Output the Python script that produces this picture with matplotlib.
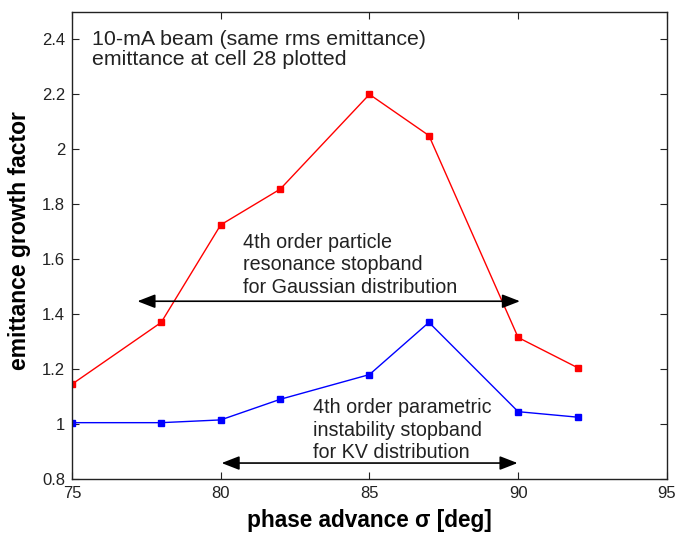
import matplotlib
matplotlib.use("Agg")
import matplotlib.pyplot as plt

plt.rcParams['font.family'] = ['Liberation Sans', 'DejaVu Sans']

phase = [75, 78, 80, 82, 85, 87, 90, 92]
gaussian = [1.145, 1.37, 1.725, 1.855, 2.20, 2.05, 1.315, 1.205]
kv = [1.005, 1.005, 1.015, 1.09, 1.18, 1.37, 1.045, 1.025]

xticks = [75, 80, 85, 90, 95]
yticks = [0.8, 1.0, 1.2, 1.4, 1.6, 1.8, 2.0, 2.2, 2.4]
ytick_labels = ['0.8', '1', '1.2', '1.4', '1.6', '1.8', '2', '2.2', '2.4']

fig = plt.figure(figsize=(6.76, 5.35), dpi=100)
ax = fig.add_axes([0.1065, 0.1047, 0.880, 0.873])

ax.plot(phase, gaussian, '-s', color='#ff0000', lw=1.0, ms=5, mec='#ff0000', mfc='#ff0000')
ax.plot(phase, kv, '-s', color='#0000ff', lw=1.0, ms=5, mec='#0000ff', mfc='#0000ff')

ax.set_xlim(75, 95)
ax.set_ylim(0.8, 2.5)
ax.set_xticks(xticks)
ax.set_yticks(yticks)
ax.set_yticklabels(ytick_labels)
ax.tick_params(direction='in', top=True, right=True, length=5, labelsize=12, pad=5,
               color='#222222', labelcolor='#222222')
for s in ax.spines.values():
    s.set_linewidth(1.0)
    s.set_color('#222222')

ax.set_xlabel('phase advance σ [deg]', fontsize=16.3, fontweight='bold', labelpad=6)
ax.set_ylabel('emittance growth factor', fontsize=16.5, fontweight='bold')
ax.yaxis.set_label_coords(-0.069, 0.51)

ax.text(75.67, 2.435, '10-mA beam (same rms emittance)\nemittance at cell 28 plotted',
        fontsize=15.4, va='top', ha='left', linespacing=1.1, color='#222222')
ax.text(80.75, 1.697, '4th order particle\nresonance stopband\nfor Gaussian distribution',
        fontsize=14.2, va='top', ha='left', linespacing=1.24, color='#222222')
ax.text(83.1, 1.094, '4th order parametric\ninstability stopband\nfor KV distribution',
        fontsize=14.2, va='top', ha='left', linespacing=1.22, color='#222222')

arrow_kw = dict(arrowstyle='<|-|>,head_length=0.9,head_width=0.35', color='black',
                lw=1.2, mutation_scale=12, shrinkA=0, shrinkB=0)
ax.annotate('', xy=(90.06, 1.447), xytext=(77.2, 1.447), arrowprops=arrow_kw)
ax.annotate('', xy=(89.98, 0.858), xytext=(80.03, 0.858), arrowprops=arrow_kw)

fig.savefig('out.png', dpi=100)
